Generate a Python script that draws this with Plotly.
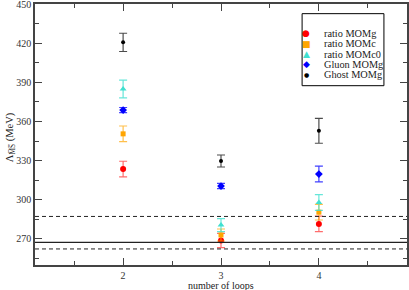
import plotly.graph_objects as go

loops = [2, 3, 4]
ratio_momg = [323.5, 268.8, 281.5]
ratio_momg_err = [6.0, 5.5, 6.0]
ratio_momc = [350.5, 273.0, 290.5]
ratio_momc_err = [6.0, 4.6, 6.0]
ratio_momc0 = [384.8, 280.6, 297.9]
ratio_momc0_err = [6.8, 5.0, 6.0]
gluon_momg = [368.7, 310.5, 319.7]
gluon_momg_err = [2.0, 2.0, 6.0]
ghost_momg = [420.6, 329.7, 352.8]
ghost_momg_err = [7.0, 4.6, 9.5]

lambda_central = 267.4
lambda_upper = 287.2
lambda_lower = 262.3

x_title = "number of loops"
y_title = "Λ<sub>M\u0305S\u0305</sub> (MeV)"

series = [
    ("ratio MOMg", ratio_momg, ratio_momg_err, "#ff0000", "rgba(255,60,60,0.75)", "circle", 6, "●"),
    ("ratio MOMc", ratio_momc, ratio_momc_err, "#ffa500", "rgba(255,165,0,0.7)", "square", 5, "■"),
    ("ratio MOMc0", ratio_momc0, ratio_momc0_err, "#40e0d0", "rgba(64,224,208,0.8)", "triangle-up", 6, "▲"),
    ("Gluon MOMg", gluon_momg, gluon_momg_err, "#0000ff", "rgba(0,0,255,0.75)", "diamond", 6, "◆"),
    ("Ghost MOMg", ghost_momg, ghost_momg_err, "#000000", "rgba(0,0,0,0.7)", "circle", 4, "●"),
]

fig = go.Figure()

for val, dash in [(lambda_central, "solid"), (lambda_upper, "dash"), (lambda_lower, "dash")]:
    fig.add_hline(y=val, line=dict(color="#222222", width=1.2 if dash == "solid" else 1,
                                   dash="solid" if dash == "solid" else "4px,3px"))

for name, vals, errs, col, ecol, sym, sz, glyph in series:
    fig.add_trace(go.Scatter(
        x=loops, y=vals, mode="markers", name=name, showlegend=False,
        marker=dict(color=col, symbol=sym, size=sz, line=dict(width=0)),
        error_y=dict(type="data", array=errs, visible=True, color=ecol, thickness=1.2, width=4),
    ))

font_family = "Liberation Serif, Times New Roman, serif"
axis_common = dict(
    showline=True, linecolor="#444444", linewidth=1.5, mirror="allticks",
    ticks="inside", ticklen=7, tickcolor="#444444", tickwidth=1.2,
    showgrid=False, zeroline=False, automargin=False, ticklabeloverflow="allow",
    tickfont=dict(family=font_family, size=10, color="#333333"),
)

# legend drawn as box + text entries (legend geometry in plot-area fractions)
leg_x0, leg_x1, leg_y0, leg_y1 = 0.718, 0.938, 0.687, 0.963
leg_rows = [0.887, 0.848, 0.808, 0.769, 0.731]
fig.add_shape(type="rect", xref="paper", yref="paper", x0=leg_x0, x1=leg_x1, y0=leg_y0, y1=leg_y1,
              line=dict(color="#000000", width=1), fillcolor="white", layer="above")
for (name, vals, errs, col, ecol, sym, sz, glyph), yy in zip(series, leg_rows):
    gsize = 6 if name == "Ghost MOMg" else 9
    fig.add_annotation(xref="paper", yref="paper", x=0.729, y=yy, xanchor="center", yanchor="middle",
                       text=glyph, showarrow=False,
                       font=dict(family="DejaVu Sans", size=gsize, color=col))
    fig.add_annotation(xref="paper", yref="paper", x=0.772, y=yy, xanchor="left", yanchor="middle",
                       text=name, showarrow=False,
                       font=dict(family=font_family, size=10.3, color="#222222"))

# axis titles
fig.add_annotation(xref="paper", yref="paper", x=0.5, y=-0.078, xanchor="center", yanchor="middle",
                   text=x_title, showarrow=False, font=dict(family=font_family, size=10, color="#222222"))
fig.add_annotation(xref="paper", yref="paper", x=-0.067, y=0.49, xanchor="center", yanchor="middle",
                   text=y_title, textangle=-90, showarrow=False,
                   font=dict(family=font_family, size=10.5, color="#222222"))

fig.update_layout(
    width=409, height=290,
    margin=dict(l=35, r=2, t=4, b=25),
    paper_bgcolor="white", plot_bgcolor="white",
    font=dict(family=font_family, size=10, color="#222222"),
    xaxis=dict(range=[1.1, 4.9], tickvals=[2, 3, 4],
               minor=dict(tickvals=[1.5, 2.5, 3.5, 4.5], ticks="inside", ticklen=4, tickcolor="#444444"),
               **axis_common),
    yaxis=dict(range=[250, 450], tickvals=[270, 300, 330, 360, 390, 420, 450],
               minor=dict(tickvals=[255, 285, 315, 345, 375, 405, 435], ticks="inside", ticklen=4, tickcolor="#444444"),
               **axis_common),
    showlegend=False,
)

fig.write_html("out.html", config={"displayModeBar": False},
               post_script="document.body.style.margin='0';document.body.style.overflow='hidden';")
